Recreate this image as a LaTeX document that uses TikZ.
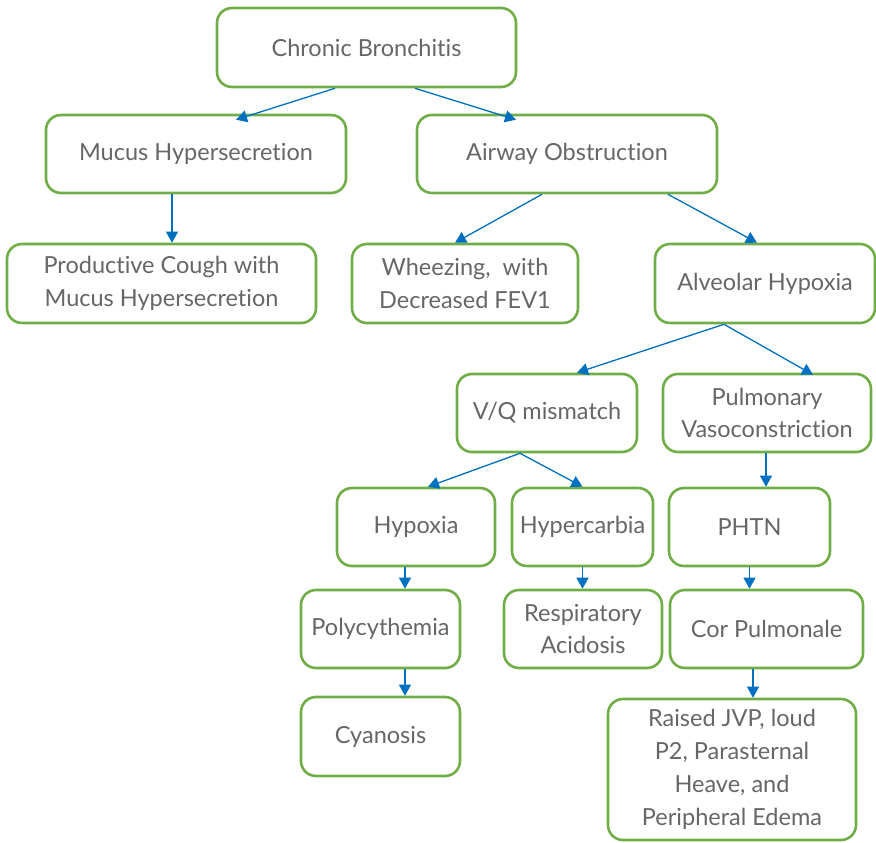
\documentclass[tikz,border=0pt]{standalone}
\usepackage{fontspec}
\setmainfont[Ligatures=NoCommon]{Lato}
\usetikzlibrary{arrows.meta}
\definecolor{boxgreen}{HTML}{70AD47}
\definecolor{txtgray}{HTML}{666666}
\definecolor{arrblue}{HTML}{0070C0}
\begin{document}
\begin{tikzpicture}[x=1pt,y=-1pt,
  box/.style={draw=boxgreen, line width=2.6pt, rounded corners=15pt, text=txtgray,
    font=\fontsize{23.5}{32.8}\selectfont, align=center, inner sep=0pt},
  link/.style={draw=arrblue, line width=1.3pt, -{Triangle[length=11pt,width=12pt]}}]
\useasboundingbox (0,0) rectangle (876,843);
% nodes: center position, width, height
\node[box, minimum width=299pt, minimum height=79pt] (cb) at (366.5,47.5) {Chronic Bronchitis};
\node[box, minimum width=300pt, minimum height=78pt] (mh) at (196,154) {Mucus Hypersecretion};
\node[box, minimum width=300pt, minimum height=78pt] (ao) at (567,154) {Airway Obstruction};
\node[box, minimum width=309pt, minimum height=79pt] (pc) at (161.5,283.5) {Productive Cough with\\Mucus Hypersecretion};
\node[box, minimum width=226pt, minimum height=79pt] (wh) at (465,283.5) {Wheezing,\ \ with\\Decreased FEV1};
\node[box, minimum width=220pt, minimum height=79pt] (ah) at (765,283.5) {Alveolar Hypoxia};
\node[box, minimum width=180pt, minimum height=78pt] (vq) at (547,413) {V/Q mismatch};
\node[box, minimum width=208pt, minimum height=78pt] (pv) at (767,413) {Pulmonary\\Vasoconstriction};
\node[box, minimum width=158pt, minimum height=78pt] (hx) at (416,527) {Hypoxia};
\node[box, minimum width=141pt, minimum height=78pt] (hc) at (582.5,527) {Hypercarbia};
\node[box, minimum width=161pt, minimum height=78pt] (ph) at (749.5,527) {PHTN};
\node[box, minimum width=159pt, minimum height=78pt] (pl) at (380.5,629) {Polycythemia};
\node[box, minimum width=158pt, minimum height=78pt] (ra) at (583,629) {Respiratory\\Acidosis};
\node[box, minimum width=193pt, minimum height=78pt] (cp) at (766.5,629) {Cor Pulmonale};
\node[box, minimum width=159pt, minimum height=79pt] (cy) at (380.5,736.5) {Cyanosis};
\node[box, minimum width=248pt, minimum height=141pt] (rj) at (732,769.5) {Raised JVP, loud\\P2, Parasternal\\Heave, and\\Peripheral Edema};
% connectors
\draw[link] ([xshift=-31.5pt]cb.south) -- ([xshift=40pt,yshift=-6pt]mh.north);
\draw[link] ([xshift=48.5pt]cb.south) -- ([xshift=-51pt,yshift=-6pt]ao.north);
\draw[link] ([xshift=-24pt]mh.south) -- ([xshift=-24pt]mh.south |- pc.north);
\draw[link] ([xshift=-25pt]ao.south) -- ([xshift=-10pt]wh.north);
\draw[link] ([xshift=101pt]ao.south) -- ([xshift=-8pt]ah.north);
\draw[link] ([xshift=-41pt]ah.south) -- ([xshift=30pt]vq.north);
\draw[link] ([xshift=-41pt]ah.south) -- ([xshift=46pt,yshift=-2pt]pv.north);
\draw[link] ([xshift=-27pt]vq.south) -- ([xshift=12pt]hx.north);
\draw[link] ([xshift=-27pt]vq.south) -- (hc.north);
\draw[link] ([xshift=-1pt]pv.south) -- ([xshift=-1pt]pv.south |- ph.north);
\draw[link] ([xshift=-11pt]hx.south) -- ([xshift=-11pt]hx.south |- pl.north);
\draw[link] (hc.south) -- (hc.south |- ra.north);
\draw[link] (ph.south) -- (ph.south |- cp.north);
\draw[link] ([xshift=24.5pt]pl.south) -- ([xshift=24.5pt]pl.south |- cy.north);
\draw[link] ([xshift=-13.5pt]cp.south) -- ([xshift=-13.5pt]cp.south |- rj.north);
\end{tikzpicture}
\end{document}
